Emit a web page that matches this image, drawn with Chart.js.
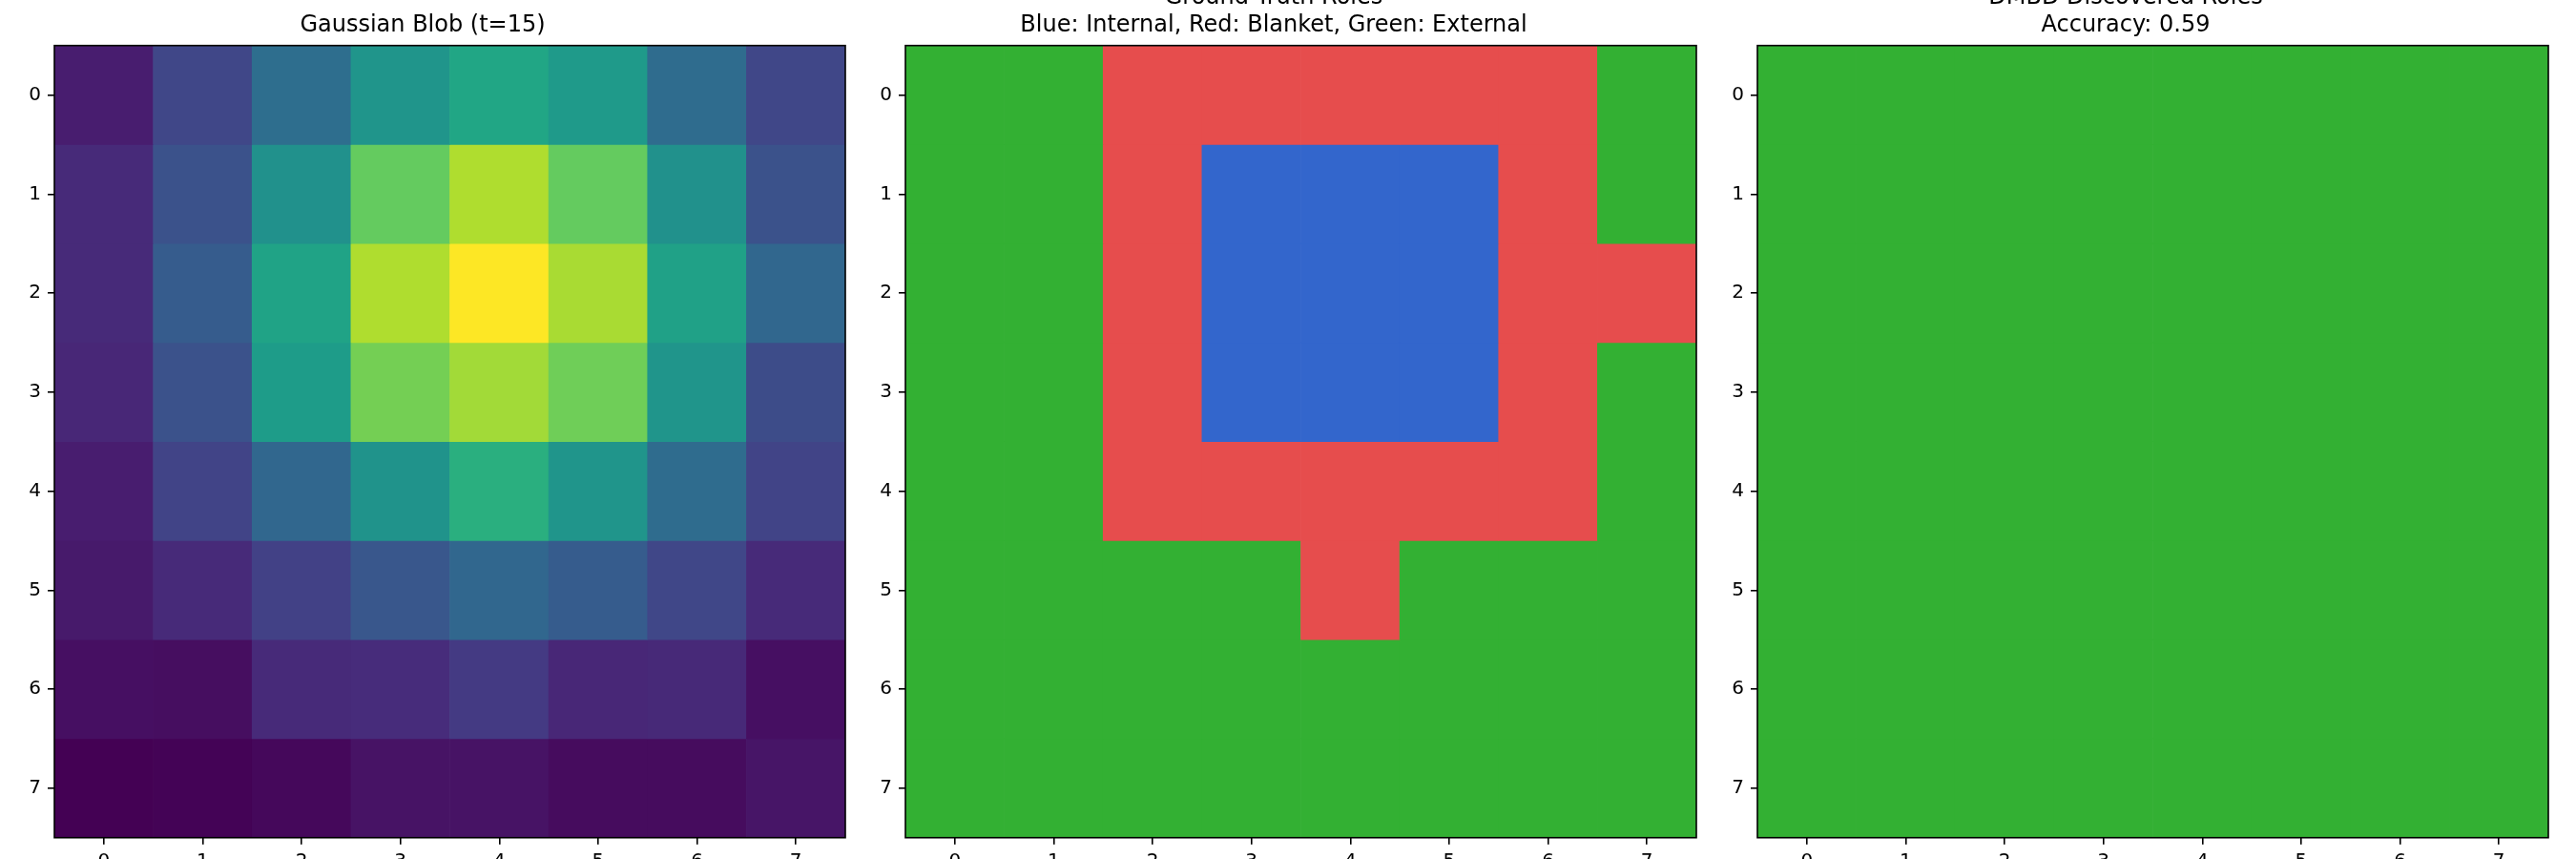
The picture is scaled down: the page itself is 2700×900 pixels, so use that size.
<!DOCTYPE html>
<html>
<head>
<meta charset="utf-8">
<script src="https://cdn.jsdelivr.net/npm/chart.js@4.4.1/dist/chart.umd.min.js"></script>
<style>
  html, body { margin: 0; padding: 0; background: #fff; }
  body { width: 2700px; height: 900px; overflow: hidden; position: relative; }
  .panel { position: absolute; top: -40px; width: 896px; height: 940px; }
</style>
</head>
<body>
<div class="panel" style="left:0px"><canvas id="c1" width="896" height="940"></canvas></div>
<div class="panel" style="left:892px"><canvas id="c2" width="896" height="940"></canvas></div>
<div class="panel" style="left:1785px"><canvas id="c3" width="896" height="940"></canvas></div>
<script>
// ---------- data ----------
const xLabels = ['0', '1', '2', '3', '4', '5', '6', '7'];
const yTicks = [0, 1, 2, 3, 4, 5, 6, 7];

// Gaussian blob intensities (normalised 0..1), rows top to bottom
const blobRow0 = [0.08, 0.21, 0.36, 0.52, 0.59, 0.54, 0.35, 0.21];
const blobRow1 = [0.12, 0.25, 0.50, 0.76, 0.88, 0.76, 0.50, 0.25];
const blobRow2 = [0.12, 0.29, 0.58, 0.88, 1.00, 0.87, 0.57, 0.33];
const blobRow3 = [0.11, 0.25, 0.55, 0.79, 0.86, 0.78, 0.52, 0.23];
const blobRow4 = [0.08, 0.20, 0.33, 0.51, 0.63, 0.52, 0.35, 0.20];
const blobRow5 = [0.07, 0.12, 0.19, 0.27, 0.33, 0.29, 0.21, 0.12];
const blobRow6 = [0.04, 0.035, 0.12, 0.125, 0.17, 0.11, 0.115, 0.04];
const blobRow7 = [0.00, 0.005, 0.02, 0.05, 0.05, 0.03, 0.03, 0.055];
const blob = [blobRow0, blobRow1, blobRow2, blobRow3, blobRow4, blobRow5, blobRow6, blobRow7];

// Roles: 0 = Internal (blue), 1 = Blanket (red), 2 = External (green)
const truthRoles = [
  [2, 2, 1, 1, 1, 1, 1, 2],
  [2, 2, 1, 0, 0, 0, 1, 2],
  [2, 2, 1, 0, 0, 0, 1, 1],
  [2, 2, 1, 0, 0, 0, 1, 2],
  [2, 2, 1, 1, 1, 1, 1, 2],
  [2, 2, 2, 2, 1, 2, 2, 2],
  [2, 2, 2, 2, 2, 2, 2, 2],
  [2, 2, 2, 2, 2, 2, 2, 2]
];
const discoveredRoles = [
  [2, 2, 2, 2, 2, 2, 2, 2],
  [2, 2, 2, 2, 2, 2, 2, 2],
  [2, 2, 2, 2, 2, 2, 2, 2],
  [2, 2, 2, 2, 2, 2, 2, 2],
  [2, 2, 2, 2, 2, 2, 2, 2],
  [2, 2, 2, 2, 2, 2, 2, 2],
  [2, 2, 2, 2, 2, 2, 2, 2],
  [2, 2, 2, 2, 2, 2, 2, 2]
];
const roleColors = ['#3366cc', '#e64d4d', '#33b033'];

const title1 = 'Gaussian Blob (t=15)';
const title2 = ['Ground Truth Roles', 'Blue: Internal, Red: Blanket, Green: External'];
const title3 = ['DMBD Discovered Roles', 'Accuracy: 0.59'];

// ---------- viridis colour map ----------
const viridisStops = ['#440154','#471365','#482475','#463480','#414487','#3b528b','#355f8d','#2f6c8e','#2a788e','#25848e','#21918c','#1e9c89','#22a884','#2fb47c','#44bf70','#5ec962','#7ad151','#9bd93c','#bddf26','#dfe318','#fde725'];
function hexRgb(h) { return [parseInt(h.slice(1,3),16), parseInt(h.slice(3,5),16), parseInt(h.slice(5,7),16)]; }
function viridis(v) {
  v = Math.max(0, Math.min(1, v));
  const n = viridisStops.length - 1;
  const p = v * n, i = Math.min(n - 1, Math.floor(p)), f = p - i;
  const a = hexRgb(viridisStops[i]), b = hexRgb(viridisStops[i + 1]);
  const c = a.map((x, k) => Math.round(x + (b[k] - x) * f));
  return 'rgb(' + c.join(',') + ')';
}

// ---------- chart helpers ----------
const FONT = 'DejaVu Sans';
const frame = {
  id: 'frame',
  afterDatasetsDraw(chart) {
    const a = chart.chartArea, ctx = chart.ctx;
    ctx.save();
    ctx.strokeStyle = '#000';
    ctx.lineWidth = 1.6;
    ctx.strokeRect(a.left, a.top, a.right - a.left, a.bottom - a.top);
    ctx.restore();
  }
};

function datasetsFrom(grid, colorFn) {
  return grid.map((row, r) => ({
    data: row.map(() => [r - 0.5, r + 0.5]),
    backgroundColor: row.map(colorFn),
    borderWidth: 0,
    barPercentage: 1,
    categoryPercentage: 1,
    grouped: false
  }));
}

function makeChart(id, grid, colorFn, title, titlePad) {
  new Chart(document.getElementById(id), {
    type: 'bar',
    data: { labels: xLabels, datasets: datasetsFrom(grid, colorFn) },
    options: {
      responsive: false,
      animation: false,
      devicePixelRatio: 1,
      layout: { padding: { left: 0, right: 10, top: 0, bottom: 0 } },
      plugins: {
        legend: { display: false },
        tooltip: { enabled: false },
        title: {
          display: true,
          text: title,
          color: '#000',
          font: { family: FONT, size: 24, weight: 'normal', lineHeight: 1.2 },
          padding: titlePad
        }
      },
      scales: {
        x: {
          type: 'category',
          offset: true,
          grid: { display: true, drawOnChartArea: false, drawTicks: true, tickLength: 7, color: '#000', lineWidth: 1.6, offset: false },
          border: { display: false },
          ticks: { color: '#000', font: { family: FONT, size: 20 }, padding: 6, maxRotation: 0, autoSkip: false },
          afterFit(s) { s.height = 22.3; }
        },
        y: {
          type: 'linear',
          reverse: true,
          min: -0.5,
          max: 7.5,
          grid: { display: true, drawOnChartArea: false, drawTicks: true, tickLength: 7, color: '#000', lineWidth: 1.6 },
          border: { display: false },
          ticks: { color: '#000', font: { family: FONT, size: 20 }, padding: 7 },
          afterBuildTicks(s) { s.ticks = yTicks.map(v => ({ value: v })); },
          afterFit(s) { s.width = 57; }
        }
      }
    },
    plugins: [frame]
  });
}

makeChart('c1', blob, v => viridis(v), title1, { top: 52.6, bottom: 6.3 });
makeChart('c2', truthRoles, v => roleColors[v], title2, { top: 23.8, bottom: 6.3 });
makeChart('c3', discoveredRoles, v => roleColors[v], title3, { top: 23.8, bottom: 6.3 });
</script>
</body>
</html>
